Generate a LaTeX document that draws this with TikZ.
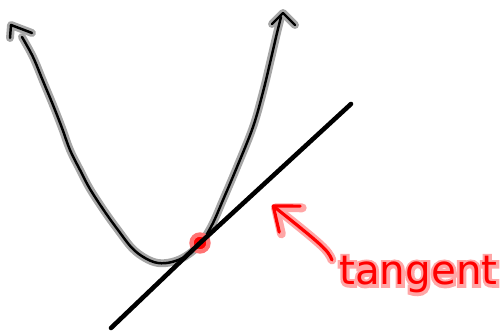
\documentclass[tikz,border=0pt]{standalone}
\usepackage{fontspec}
\usetikzlibrary{arrows.meta}
\newfontfamily\tanfont{DejaVu Sans}
\newfontfamily\tanglowfont[FakeBold=14]{DejaVu Sans}
\begin{document}
\begin{tikzpicture}[x=0.02cm, y=-0.02cm,
    curveglow/.style={draw=gray!70, line width=4.5pt, line cap=round, line join=round},
    curvecore/.style={draw=black, line width=1.4pt, line cap=round, line join=round},
    redglow/.style={draw=red!35, line width=5pt, line cap=round, line join=round},
    redcore/.style={draw=red, line width=1.8pt, line cap=round, line join=round},
    tanline/.style={draw=black, line width=2.6pt, line cap=round},
    tanpoint/.style={circle, fill=red, draw=red!55, line width=2.5pt,
                     minimum size=0.34cm, inner sep=0pt},
    tanlabel/.style={font=\tanfont\fontsize{23}{23}\selectfont, text=red,
                     inner sep=0pt, anchor=base west}
]
    \useasboundingbox (0,0) rectangle (501,333);

    % parabola, grey halo under a black stroke, hand drawn heads
    \foreach \lay in {curveglow, curvecore} {
        \draw[\lay] plot[smooth, tension=0.6] coordinates {
                (22,37) (33,57) (43,81) (53,105) (62,128) (70,150)
                (80,170) (90,189) (105,212) (118,230) (132,248) (145,258)
                (158,263) (172,262) (186,256) (200,244) (212,225) (223,200)
                (237,167) (253,127) (263,92) (270,63) (277,33) (281,17)};
        \draw[\lay] (32,33) -- (11,25) -- (10,38);
        \draw[\lay] (272,24) -- (283,13) -- (295,25);
    }

    % point of contact and tangent line
    \node[tanpoint] (tp) at (200,243) {};
    \coordinate (tanA) at (111,328);
    \coordinate (tanB) at (351,104);
    \draw[tanline] (tanA) -- (tp.center) -- (tanB);

    % label and pointer
    \node[tanlabel, font=\tanglowfont\fontsize{23}{23}\selectfont, text=red!35]
        (tglow) at (339,285) {tangent};
    \node[tanlabel] (tlabel) at (339,285) {tangent};
    \coordinate (arrtail) at (332,260);
    \coordinate (arrtip) at (272,205);
    \foreach \lay in {redglow, redcore}
        \draw[\lay, -{Straight Barb[length=12pt, width=19pt, round]}]
            (arrtail) .. controls (328,250) and (322,245) .. (arrtip);
\end{tikzpicture}
\end{document}
